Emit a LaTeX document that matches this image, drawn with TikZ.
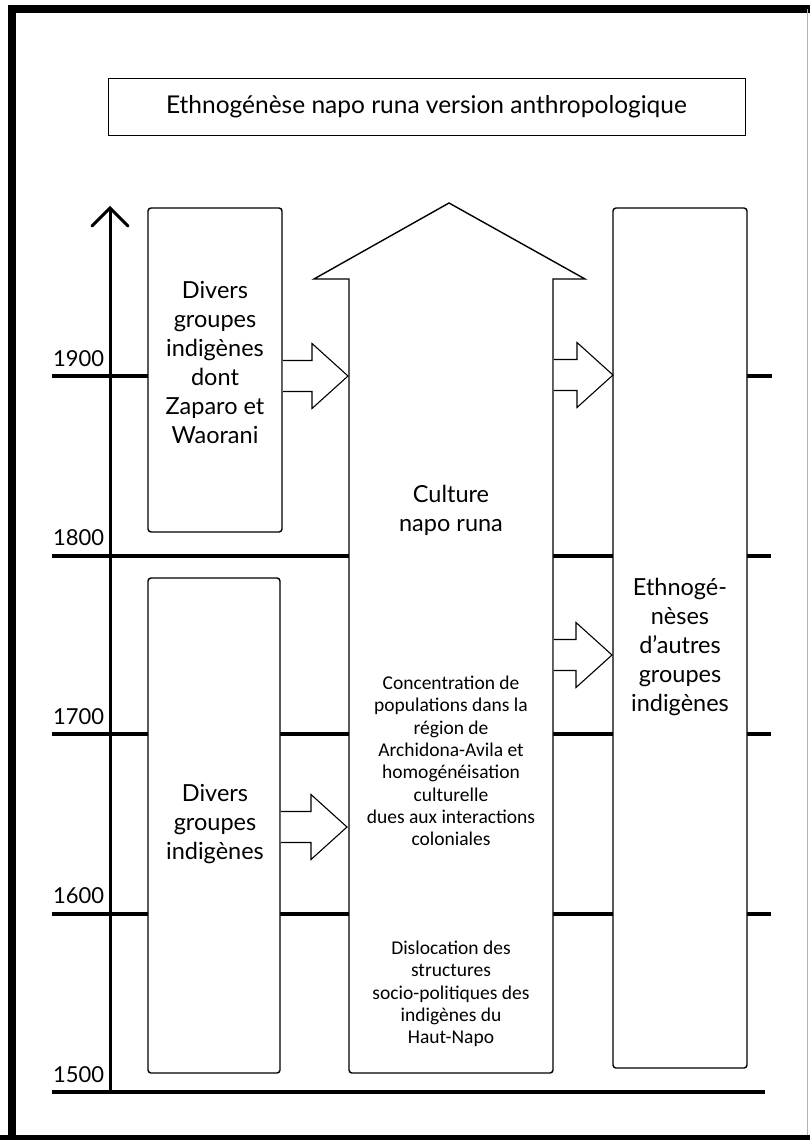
\documentclass[tikz,border=0pt]{standalone}
\usepackage{fontspec}
\setmainfont{Lato}
\newfontfamily\condfont{Carlito}
\usetikzlibrary{calc}
\tikzset{
  box/.style={draw, line width=1.4pt, rounded corners=3pt, align=center, inner sep=0pt},
  big/.style={font=\fontsize{23.5}{29}\selectfont, align=center},
  small/.style={font=\condfont\fontsize{19.5}{22.3}\selectfont, align=center},
  yearline/.style={line width=4pt},
  yearlab/.style={font=\fontsize{22}{24}\selectfont, anchor=south west, inner sep=0pt},
  blk/.style={draw, line width=1.1pt, fill=white, line join=miter},
}
\newcommand\blockarr[4]{% x0, xbase, xtip, y
  \fill[white] (#1+0.8,#4-15.5) rectangle (#2,#4+15.5);
  \draw[blk] (#1+0.8,#4-15.5) -- (#2,#4-15.5) -- (#2,#4-32.5) -- (#3,#4) -- (#2,#4+32.5) -- (#2,#4+15.5) -- (#1+0.8,#4+15.5);}
\begin{document}
\begin{tikzpicture}[x=1pt,y=-1pt]
\useasboundingbox (0,0) rectangle (810,1140);
% frame
\draw[line width=8pt] (11.5,1140) -- (11.5,9) -- (810,9);
\draw[line width=6pt] (0,1138) -- (810,1138);
\draw[line width=0.6pt, black!30] (807,9) -- (807,1135);
% title
\node[draw, line width=0.8pt, minimum width=637pt, minimum height=57pt, inner sep=0pt,
      font=\fontsize{24.5}{28}\selectfont] (title) at (426.5,106.5) {Ethnogénèse napo runa version anthropologique};
% year lines
\draw[yearline] (52,376) -- (148,376) (747,376) -- (772,376);
\draw[yearline] (52,556) -- (349,556) (553,556) -- (613,556) (746,556) -- (771,556);
\draw[yearline] (52,734) -- (148,734) (280,734) -- (349,734) (553,734) -- (613,734) (746,734) -- (771,734);
\draw[yearline] (52,914) -- (148,914) (280,914) -- (349,914) (553,914) -- (613,914) (746,914) -- (771,914);
\draw[yearline] (52,1092) -- (765,1092);
% year labels
\node[yearlab] (y1900) at (53,367) {1900};
\node[yearlab] (y1800) at (53,546) {1800};
\node[yearlab] (y1700) at (53,725) {1700};
\node[yearlab] (y1600) at (53,904) {1600};
\node[yearlab] (y1500) at (53,1083) {1500};
% axis
\coordinate (axbot) at (110,1092);
\coordinate (axtop) at (110,208);
\draw[line width=3pt] (axbot) -- (axtop);
\draw[line width=3pt, line cap=round] (92,226) -- (axtop) -- (128,226);
% boxes
\node[box, fill=white, minimum width=134pt, minimum height=324pt] (lt) at (215,370) {};
\node[big] (lttext) at (215,362.5) {Divers\\groupes\\indigènes\\dont\\Zaparo et\\Waorani};
\node[box, fill=white, minimum width=132pt, minimum height=495pt] (lb) at (214,825.5) {};
\node[big] (lbtext) at (215,824) {Divers\\groupes\\indigènes};
\node[box, fill=white, minimum width=134pt, minimum height=860pt] (rb) at (680,638) {};
\node[big] (rbtext) at (680,647) {Ethnogé-\\nèses\\d’autres\\groupes\\indigènes};
% central arrow
\draw[line width=1.4pt, fill=white, line join=miter] (349,1060) -- (349,279) -- (314,279) -- (449,203) -- (585,279) -- (553,279) -- (553,1060)
  [rounded corners=3pt] -- (553,1073) -- (349,1073) -- (349,1060);
\node[big] (culture) at (451,510) {Culture\\napo runa};
\node[small] (conc) at (451,761) {Concentration de\\populations dans la\\région de\\Archidona-Avila et\\homogénéisation\\culturelle\\dues aux interactions\\coloniales};
\node[small] (disl) at (451,994) {Dislocation des\\structures\\socio-politiques des\\indigènes du\\Haut-Napo};
% block arrows
\blockarr{282}{312}{348}{376}
\blockarr{553}{577}{613}{375}
\blockarr{553}{576}{612}{655}
\blockarr{280}{311}{347}{827}
\end{tikzpicture}
\end{document}
